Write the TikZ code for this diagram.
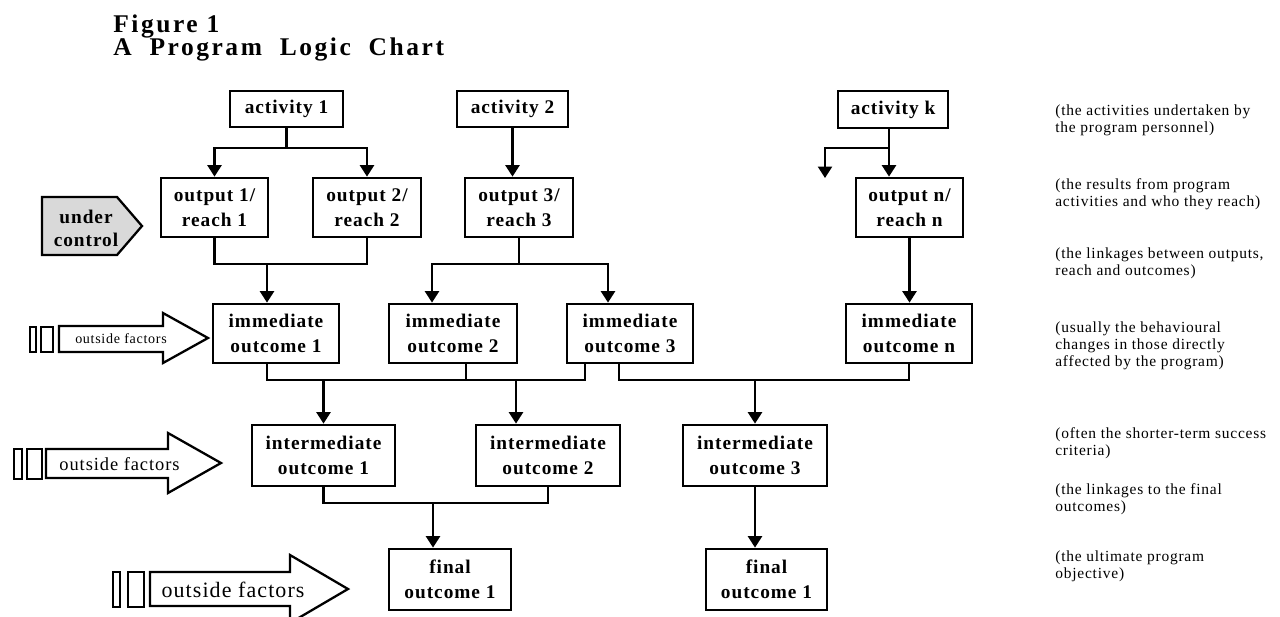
\documentclass[tikz,border=0pt]{standalone}
\usepackage{fontspec}
\setmainfont{Liberation Serif}
\newfontfamily\wideserif{Liberation Serif}[LetterSpace=5]
\newfontfamily\titleserif{Liberation Serif}[LetterSpace=10]
\usetikzlibrary{arrows.meta,calc}

\tikzset{
  box/.style={draw, line width=1.6pt, align=center, inner sep=0pt,
    font=\wideserif\bfseries\fontsize{11}{14}\selectfont},
  link/.style={line width=1.2pt},
  arr/.style={link, -{Triangle[width=8pt,length=6.5pt]}},
  fat/.style={line width=1.3pt},
  note/.style={anchor=west, align=left, inner sep=0pt,
    font=\wideserif\fontsize{8.8}{9.8}\selectfont},
}

\begin{document}
\begin{tikzpicture}[x=0.02cm, y=-0.02cm]
\useasboundingbox (0,0) rectangle (1280,616);

% title
\node[anchor=base west, inner sep=0pt, font=\titleserif\bfseries\fontsize{14.5}{16}\selectfont] (fig) at (113,32) {Figure 1};
\node[anchor=base west, inner sep=0pt, font=\titleserif\bfseries\fontsize{14.5}{16}\selectfont] (title) at (113,55) {A\ \ Program\ \ Logic\ \ Chart};

% boxes
\foreach \n/\x/\y/\w/\h/\t in {act1/286.5/109/113/36/{activity 1}, act2/512.5/109/111/36/{activity 2},
    actk/893/109.5/110/37/{activity k},
    out1/214.5/207.5/107/59/{output 1/\\reach 1}, out2/367/207.5/108/59/{output 2/\\reach 2},
    out3/519/207.5/108/59/{output 3/\\reach 3}, outn/909.5/207.5/107/59/{output n/\\reach n},
    im1/276/333.5/126/59/{immediate\\outcome 1}, im2/453/333.5/128/59/{immediate\\outcome 2},
    im3/630/333.5/126/59/{immediate\\outcome 3}, imn/909/333.5/126/59/{immediate\\outcome n},
    int1/323.5/455.5/143/61/{intermediate\\outcome 1}, int2/548/455.5/144/61/{intermediate\\outcome 2},
    int3/755/455.5/144/61/{intermediate\\outcome 3},
    fin1/450/579.5/122/61/{final\\outcome 1}, fin2/766.5/579.5/121/61/{final\\outcome 1}}
  \node[box, minimum width=\w*0.02cm, minimum height=\h*0.02cm] (\n) at (\x,\y) {\t};

% activities to outputs
\draw[link] (act1) -- (act1 |- 0,148) coordinate (j1);
\draw[arr] (j1) -| (out1);
\draw[arr] (j1) -| (out2);
\draw[arr] (act2) -- (act2 |- out3.north);
\coordinate (k0) at ([xshift=-0.08cm]actk.south);
\draw[link] (k0) -- (k0 |- 0,148) coordinate (jk);
\draw[arr] (jk) -- (jk |- outn.north);
\coordinate (loose) at (825,178);
\draw[arr] (jk) -| (loose);

% outputs to immediate outcomes
\draw[link] (out1) -- (out1 |- 0,264) -| (out2);
\coordinate (e1) at ([xshift=-0.18cm]im1.north);
\draw[arr] (e1 |- 0,264) -- (e1);
\draw[link] (out3) -- (out3 |- 0,264) coordinate (j3);
\coordinate (e2) at ([xshift=-0.42cm]im2.north);
\coordinate (e3) at ([xshift=-0.44cm]im3.north);
\draw[arr] (j3) -| (e2);
\draw[arr] (j3) -| (e3);
\draw[arr] (outn) -- (outn |- imn.north);

% immediate to intermediate outcomes
\coordinate (s1) at ([xshift=-0.18cm]im1.south);
\coordinate (s2) at ([xshift=0.26cm]im2.south);
\coordinate (s3) at ([xshift=-0.9cm]im3.south);
\coordinate (s4) at ([xshift=-0.22cm]im3.south);
\draw[link] (s1) |- (s3 |- 0,380) -- (s3);
\draw[link] (s2) -- (s2 |- 0,380);
\draw[arr] (int1 |- 0,380) -- (int1);
\coordinate (t2) at ([xshift=-0.64cm]int2.north);
\draw[arr] (t2 |- 0,380) -- (t2);
\draw[link] (s4) |- (imn |- 0,380) -- (imn);
\draw[arr] (int3 |- 0,380) -- (int3);

% intermediate to final outcomes
\draw[link] (int1) |- (int2 |- 0,503) -- (int2);
\coordinate (f1) at ([xshift=-0.34cm]fin1.north);
\draw[arr] (f1 |- 0,503) -- (f1);
\draw[arr] (int3) -- (int3 |- fin2.north);

% under control
\draw[fat, fill=gray!30] (42,197) -- (117,197) -- (142,226) -- (117,255) -- (42,255) -- cycle;
\node[align=center, inner sep=0pt, font=\wideserif\bfseries\fontsize{11}{13}\selectfont] (uc) at (86,228) {under\\control};

% outside factors
\draw[fat] (30,327) rectangle (36,352) (41,327) rectangle (53,352);
\draw[fat] (59,326) -- (163,326) -- (163,313) -- (208,338) -- (163,363) -- (163,352) -- (59,352) -- cycle;
\node[inner sep=0pt, font=\wideserif\fontsize{8}{9}\selectfont] (of1) at (121,339) {outside factors};

\draw[fat] (14,449) rectangle (22,479) (27,449) rectangle (42,479);
\draw[fat] (46,449) -- (168,449) -- (168,433) -- (221,463) -- (168,493) -- (168,478) -- (46,478) -- cycle;
\node[inner sep=0pt, font=\wideserif\fontsize{10.5}{12}\selectfont] (of2) at (119.5,464) {outside factors};

\draw[fat] (113,572) rectangle (120,607) (128,572) rectangle (144,607);
\draw[fat] (150,572) -- (290,572) -- (290,555) -- (348,589) -- (290,623) -- (290,606) -- (150,606) -- cycle;
\node[inner sep=0pt, font=\wideserif\fontsize{12.5}{14}\selectfont] (of3) at (233,590) {outside factors};

% notes
\node[note] (n1) at (1055,120) {(the activities undertaken by\\the program personnel)};
\node[note] (n2) at (1055,194) {(the results from program\\activities and who they reach)};
\node[note] (n3) at (1055,263) {(the linkages between outputs,\\reach and outcomes)};
\node[note] (n4) at (1055,346) {(usually the behavioural\\changes in those directly\\affected by the program)};
\node[note] (n5) at (1055,443) {(often the shorter-term success\\criteria)};
\node[note] (n6) at (1055,499) {(the linkages to the final\\outcomes)};
\node[note] (n7) at (1055,566) {(the ultimate program\\objective)};
\end{tikzpicture}
\end{document}
